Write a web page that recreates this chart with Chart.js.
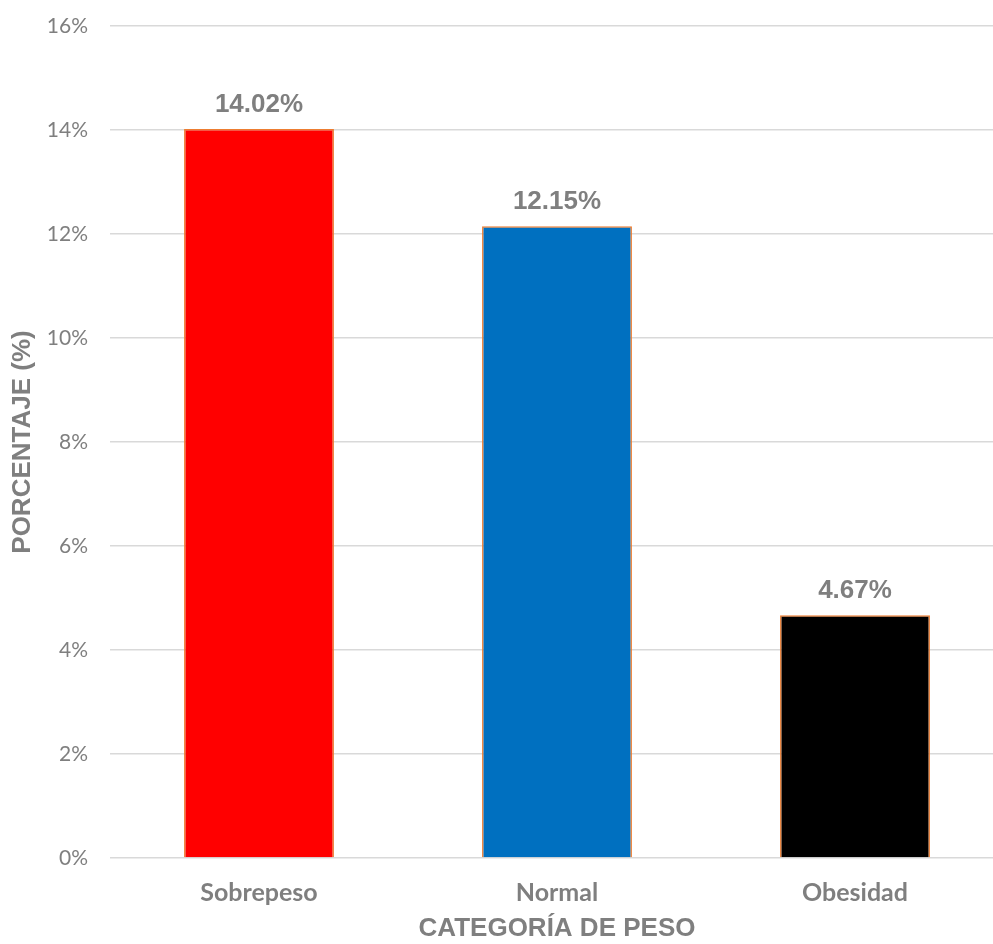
<!DOCTYPE html>
<html>
<head>
<meta charset="utf-8">
<script src="https://cdn.jsdelivr.net/npm/chart.js@4/dist/chart.umd.min.js"></script>
<style>
  html, body { margin: 0; padding: 0; background: #fff; overflow: hidden; }
  #wrap { width: 1004px; height: 944px; }
</style>
</head>
<body>
<div id="wrap"><canvas id="chart" width="1004" height="944"></canvas></div>
<script>
const categories = ["Sobrepeso", "Normal", "Obesidad"];
const percentages = [14.02, 12.15, 4.67];
const barColors = ["#FF0000", "#0070C0", "#000000"];
const yTicks = [0, 2, 4, 6, 8, 10, 12, 14, 16];

const gray = "#7f7f7f";

// value labels above each bar
const valueLabels = {
  id: "valueLabels",
  afterDatasetsDraw(chart) {
    const ctx = chart.ctx;
    const meta = chart.getDatasetMeta(0);
    ctx.save();
    ctx.font = "bold 26px 'Liberation Sans', Arial, sans-serif";
    ctx.fillStyle = gray;
    ctx.textAlign = "center";
    ctx.textBaseline = "alphabetic";
    meta.data.forEach((bar, i) => {
      ctx.fillText(percentages[i].toFixed(2) + "%", bar.x, bar.y - 17);
    });
    ctx.restore();
  }
};

new Chart(document.getElementById("chart"), {
  type: "bar",
  data: {
    labels: categories,
    datasets: [{
      data: percentages,
      backgroundColor: barColors,
      borderColor: "#ED7D31",
      borderWidth: 1.5,
      categoryPercentage: 1,
      barPercentage: 0.503
    }]
  },
  options: {
    responsive: false,
    animation: false,
    devicePixelRatio: 1,
    layout: { padding: { top: 26, right: 0, bottom: 0, left: 0 } },
    plugins: {
      legend: { display: false },
      tooltip: { enabled: false }
    },
    scales: {
      x: {
        grid: { display: false },
        border: { display: false },
        ticks: {
          color: gray,
          padding: 12,
          font: { family: "Lato, 'Open Sans', sans-serif", size: 25, weight: "bold" }
        },
        title: {
          display: true,
          text: "CATEGORÍA DE PESO",
          color: gray,
          padding: { top: 0, bottom: 0 },
          font: { family: "'Liberation Sans', Arial, sans-serif", size: 26, weight: "bold" }
        },
        afterFit(scale) {
          scale.height = 86;
          scale.paddingLeft = 0;
          scale.paddingRight = 0;
        }
      },
      y: {
        min: 0,
        max: 16,
        afterBuildTicks(scale) { scale.ticks = yTicks.map(v => ({ value: v })); },
        grid: { color: "#d9d9d9", lineWidth: 1.5, drawTicks: false },
        border: { display: false },
        ticks: {
          color: gray,
          padding: 22,
          font: { family: "Lato, 'Open Sans', sans-serif", size: 21 },
          callback: v => v + "%"
        },
        title: {
          display: true,
          text: "PORCENTAJE (%)",
          color: gray,
          padding: { top: 7, bottom: 0 },
          font: { family: "'Liberation Sans', Arial, sans-serif", size: 26, weight: "bold" }
        },
        afterFit(scale) {
          scale.width = 110;
          scale.paddingTop = 0;
          scale.paddingBottom = 0;
        }
      }
    }
  },
  plugins: [valueLabels]
});
</script>
</body>
</html>
